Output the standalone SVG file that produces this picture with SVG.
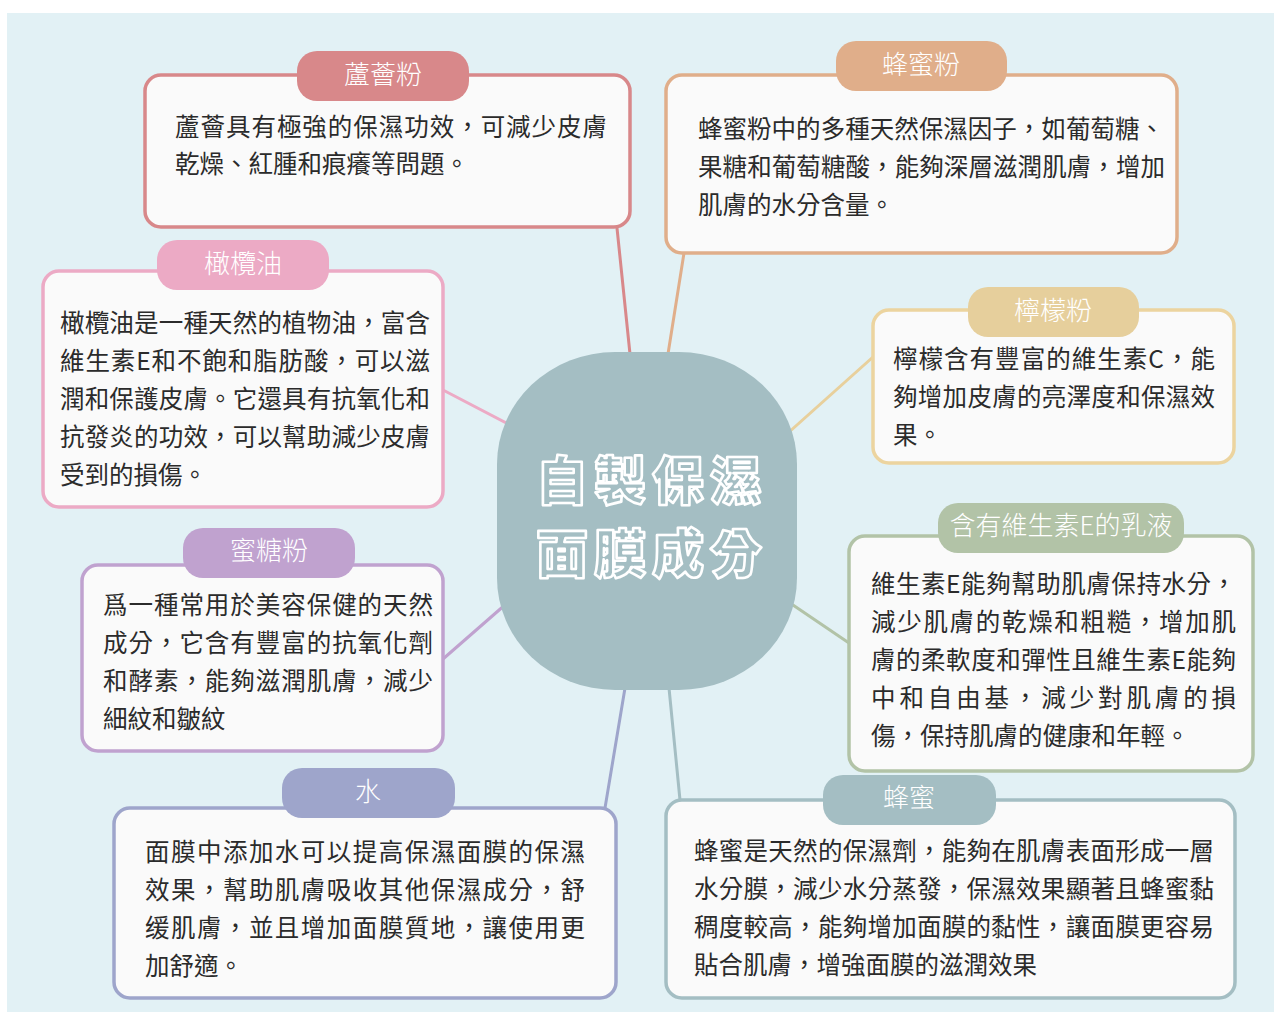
<svg xmlns="http://www.w3.org/2000/svg" width="1274" height="1012" viewBox="0 0 1274 1012">
<style>
.box{fill:#fafafa;stroke-width:3.5}
.tag{stroke:none}
.tt{font-family:"Noto Sans CJK TC","Noto Sans CJK SC",sans-serif;font-size:26px;fill:#ffffff;text-anchor:middle;font-weight:300}
.bt{font-family:"Noto Sans CJK TC","Noto Sans CJK SC",sans-serif;font-size:24.5px;fill:#2b2b2b}
.con{fill:none;stroke-width:3;stroke-linecap:round}
.ct{font-family:"Noto Sans CJK TC","Noto Sans CJK SC",sans-serif;font-size:52px;font-weight:900;fill:#a4bec3;stroke:#ffffff;stroke-width:2.6;stroke-linejoin:round;text-anchor:middle;letter-spacing:6px}
</style>
<rect x="0" y="0" width="1274" height="1012" fill="#ffffff"/>
<rect x="7" y="13" width="1267" height="999" fill="#e2f1f5"/>
<g id="connectors">
<line class="con" stroke="#d8888a" x1="617" y1="228" x2="630" y2="354"/>
<line class="con" stroke="#e0ae8a" x1="684" y1="253" x2="668" y2="354"/>
<line class="con" stroke="#e8d09c" x1="873" y1="357" x2="788" y2="433"/>
<line class="con" stroke="#b2c3a7" x1="849" y1="643" x2="790" y2="603"/>
<line class="con" stroke="#a4bec3" x1="669" y1="688" x2="680" y2="800"/>
<line class="con" stroke="#9ea5cb" x1="625" y1="688" x2="605" y2="808"/>
<line class="con" stroke="#c0a2cf" x1="443" y1="659" x2="506" y2="604"/>
<line class="con" stroke="#ecaac5" x1="443" y1="390" x2="510" y2="425"/>
</g>
<g id="center">
<rect x="497" y="352" width="300" height="338" rx="118" ry="112" fill="#a4bec3"/>
<text class="ct" x="652" y="500">自製保濕</text>
<text class="ct" x="652" y="573">面膜成分</text>
</g>
<g id="aloe">
<rect class="box" x="145" y="75" width="485" height="152" rx="16" stroke="#d8888a"/>
<rect class="tag" x="297" y="51" width="172" height="50" rx="20" fill="#d8888a"/>
<text class="tt" x="383" y="84">蘆薈粉</text>
<text class="bt" x="175" y="136" textLength="432" lengthAdjust="spacing">蘆薈具有極強的保濕功效，可減少皮膚</text>
<text class="bt" x="175" y="173">乾燥、紅腫和痕癢等問題。</text>
</g>
<g id="honeypowder">
<rect class="box" x="666" y="75" width="511" height="178" rx="16" stroke="#e0ae8a"/>
<rect class="tag" x="836" y="41" width="171" height="50" rx="20" fill="#e0ae8a"/>
<text class="tt" x="921" y="74">蜂蜜粉</text>
<text class="bt" x="698" y="138" textLength="466" lengthAdjust="spacing">蜂蜜粉中的多種天然保濕因子，如葡萄糖、</text>
<text class="bt" x="698" y="176" textLength="467" lengthAdjust="spacing">果糖和葡萄糖酸，能夠深層滋潤肌膚，增加</text>
<text class="bt" x="698" y="214">肌膚的水分含量。</text>
</g>
<g id="olive">
<rect class="box" x="43" y="271" width="400" height="236" rx="16" stroke="#ecaac5"/>
<rect class="tag" x="157" y="240" width="172" height="50" rx="20" fill="#ecaac5"/>
<text class="tt" x="243" y="273">橄欖油</text>
<text class="bt" x="60" y="332" textLength="370" lengthAdjust="spacing">橄欖油是一種天然的植物油，富含</text>
<text class="bt" x="60" y="370" textLength="370" lengthAdjust="spacing">維生素E和不飽和脂肪酸，可以滋</text>
<text class="bt" x="60" y="408" textLength="370" lengthAdjust="spacing">潤和保護皮膚。它還具有抗氧化和</text>
<text class="bt" x="60" y="446" textLength="370" lengthAdjust="spacing">抗發炎的功效，可以幫助減少皮膚</text>
<text class="bt" x="60" y="484">受到的損傷。</text>
</g>
<g id="lemon">
<rect class="box" x="873" y="310" width="361" height="153" rx="16" stroke="#ecd49f"/>
<rect class="tag" x="968" y="287" width="171" height="50" rx="20" fill="#e6cf9c"/>
<text class="tt" x="1053" y="320">檸檬粉</text>
<text class="bt" x="893" y="368" textLength="322" lengthAdjust="spacing">檸檬含有豐富的維生素C，能</text>
<text class="bt" x="893" y="406" textLength="322" lengthAdjust="spacing">夠增加皮膚的亮澤度和保濕效</text>
<text class="bt" x="893" y="444">果。</text>
</g>
<g id="lotion">
<rect class="box" x="849" y="536" width="404" height="235" rx="16" stroke="#b2c3a7"/>
<rect class="tag" x="938" y="503" width="246" height="50" rx="20" fill="#b2c3a7"/>
<text class="tt" x="1061" y="535">含有維生素E的乳液</text>
<text class="bt" x="871" y="593" textLength="365" lengthAdjust="spacing">維生素E能夠幫助肌膚保持水分，</text>
<text class="bt" x="871" y="631" textLength="365" lengthAdjust="spacing">減少肌膚的乾燥和粗糙，增加肌</text>
<text class="bt" x="871" y="669" textLength="365" lengthAdjust="spacing">膚的柔軟度和彈性且維生素E能夠</text>
<text class="bt" x="871" y="707" textLength="365" lengthAdjust="spacing">中和自由基，減少對肌膚的損</text>
<text class="bt" x="871" y="745">傷，保持肌膚的健康和年輕。</text>
</g>
<g id="honeysugar">
<rect class="box" x="82" y="565" width="361" height="186" rx="16" stroke="#c0a2cf"/>
<rect class="tag" x="183" y="528" width="172" height="50" rx="20" fill="#c0a2cf"/>
<text class="tt" x="269" y="560">蜜糖粉</text>
<text class="bt" x="103" y="614" textLength="330" lengthAdjust="spacing">爲一種常用於美容保健的天然</text>
<text class="bt" x="103" y="652" textLength="330" lengthAdjust="spacing">成分，它含有豐富的抗氧化劑</text>
<text class="bt" x="103" y="690" textLength="330" lengthAdjust="spacing">和酵素，能夠滋潤肌膚，減少</text>
<text class="bt" x="103" y="728">細紋和皺紋</text>
</g>
<g id="water">
<rect class="box" x="114" y="808" width="502" height="190" rx="16" stroke="#9ea5cb"/>
<rect class="tag" x="282" y="768" width="173" height="50" rx="20" fill="#9ea5cb"/>
<text class="tt" x="368" y="801">水</text>
<text class="bt" x="145" y="861" textLength="440" lengthAdjust="spacing">面膜中添加水可以提高保濕面膜的保濕</text>
<text class="bt" x="145" y="899" textLength="440" lengthAdjust="spacing">效果，幫助肌膚吸收其他保濕成分，舒</text>
<text class="bt" x="145" y="937" textLength="440" lengthAdjust="spacing">缓肌膚，並且增加面膜質地，讓使用更</text>
<text class="bt" x="145" y="975">加舒適。</text>
</g>
<g id="honey">
<rect class="box" x="666" y="800" width="569" height="198" rx="16" stroke="#a4bec3"/>
<rect class="tag" x="823" y="775" width="173" height="50" rx="20" fill="#a4bec3"/>
<text class="tt" x="909" y="807">蜂蜜</text>
<text class="bt" x="694" y="860" textLength="520" lengthAdjust="spacing">蜂蜜是天然的保濕劑，能夠在肌膚表面形成一層</text>
<text class="bt" x="694" y="898" textLength="520" lengthAdjust="spacing">水分膜，減少水分蒸發，保濕效果顯著且蜂蜜黏</text>
<text class="bt" x="694" y="936" textLength="520" lengthAdjust="spacing">稠度較高，能夠增加面膜的黏性，讓面膜更容易</text>
<text class="bt" x="694" y="974">貼合肌膚，增強面膜的滋潤效果</text>
</g>
</svg>
